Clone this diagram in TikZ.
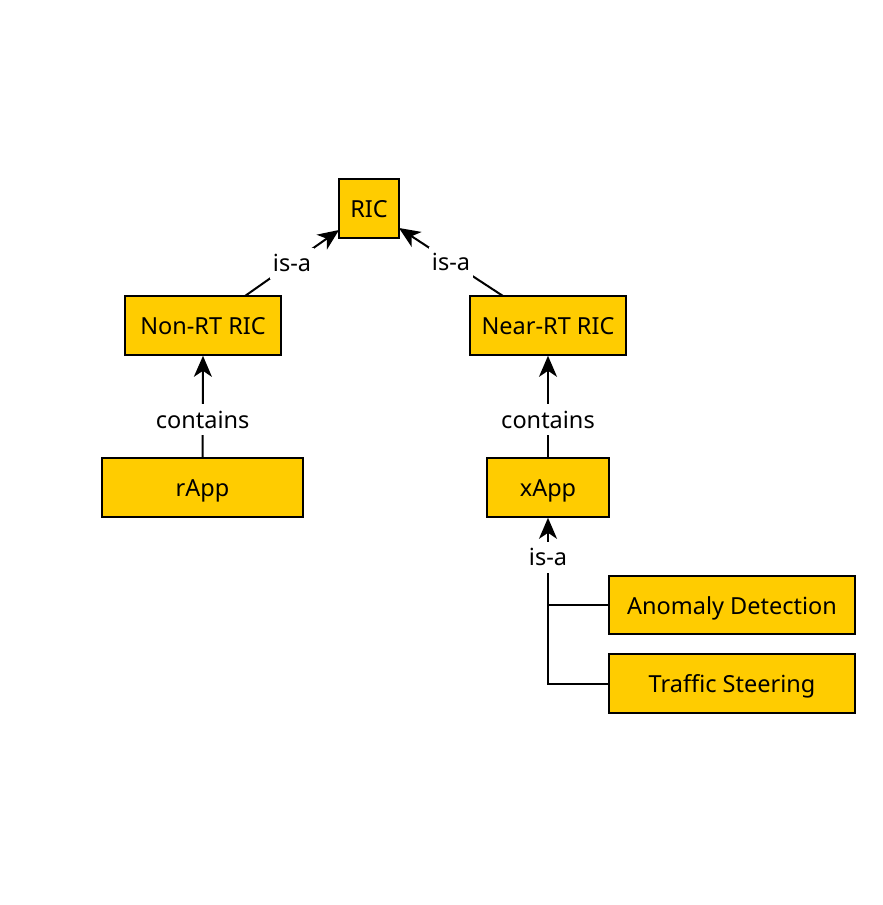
\documentclass[tikz,border=0pt]{standalone}
\usepackage{fontspec}
\setmainfont{Noto Sans}
\usetikzlibrary{arrows.meta}
\definecolor{boxfill}{HTML}{FFCC00}
\begin{document}
\begin{tikzpicture}[x=1pt,y=-1pt,
  box/.style={draw=black, line width=1.6pt, fill=boxfill, inner sep=0pt, font=\fontsize{23.5}{27}\selectfont, text height=23pt, text depth=4.5pt},
  lbl/.style={fill=white, inner sep=3pt, font=\fontsize{23.5}{27}\selectfont, text height=21pt, text depth=4pt},
  link/.style={line width=2pt, -{Stealth[length=21pt,width=18pt,inset=6pt]}},
  plain/.style={line width=2pt}]
\useasboundingbox (0,0) rectangle (883,905);
\node[box, minimum width=60pt, minimum height=59pt] (ric) at (369,208.5) {RIC};
\node[box, minimum width=156pt, minimum height=59pt] (nonrt) at (203,325.5) {Non-RT RIC};
\node[box, minimum width=156pt, minimum height=59pt] (nearrt) at (548,325.5) {Near-RT RIC};
\node[box, minimum width=201pt, minimum height=59pt] (rapp) at (202.5,487.5) {rApp};
\node[box, minimum width=122pt, minimum height=59pt] (xapp) at (548,487.5) {xApp};
\node[box, minimum width=246pt, minimum height=58pt] (ad) at (732,605) {Anomaly Detection};
\node[box, minimum width=246pt, minimum height=59pt] (ts) at (732,683.5) {Traffic Steering};
\coordinate (nonrtout) at (245,296);
\coordinate (nearrtout) at (503,296);
\coordinate (ricin1) at (339,230);
\coordinate (ricin2) at (399,228);
\coordinate (junc) at (548,597);
\draw[link] (nonrtout) -- node[lbl] {is-a} (ricin1);
\draw[link] (nearrtout) -- node[lbl] {is-a} (ricin2);
\draw[link] (rapp.north) -- node[lbl, pos=0.37] {contains} (nonrt.south);
\draw[link] (xapp.north) -- node[lbl, pos=0.37] {contains} (nearrt.south);
\draw[plain] (ad.west) -- (ad.west -| junc);
\draw[plain] (ts.west) -| (junc);
\draw[link] (junc) -- node[lbl] {is-a} (xapp.south);
\end{tikzpicture}
\end{document}
